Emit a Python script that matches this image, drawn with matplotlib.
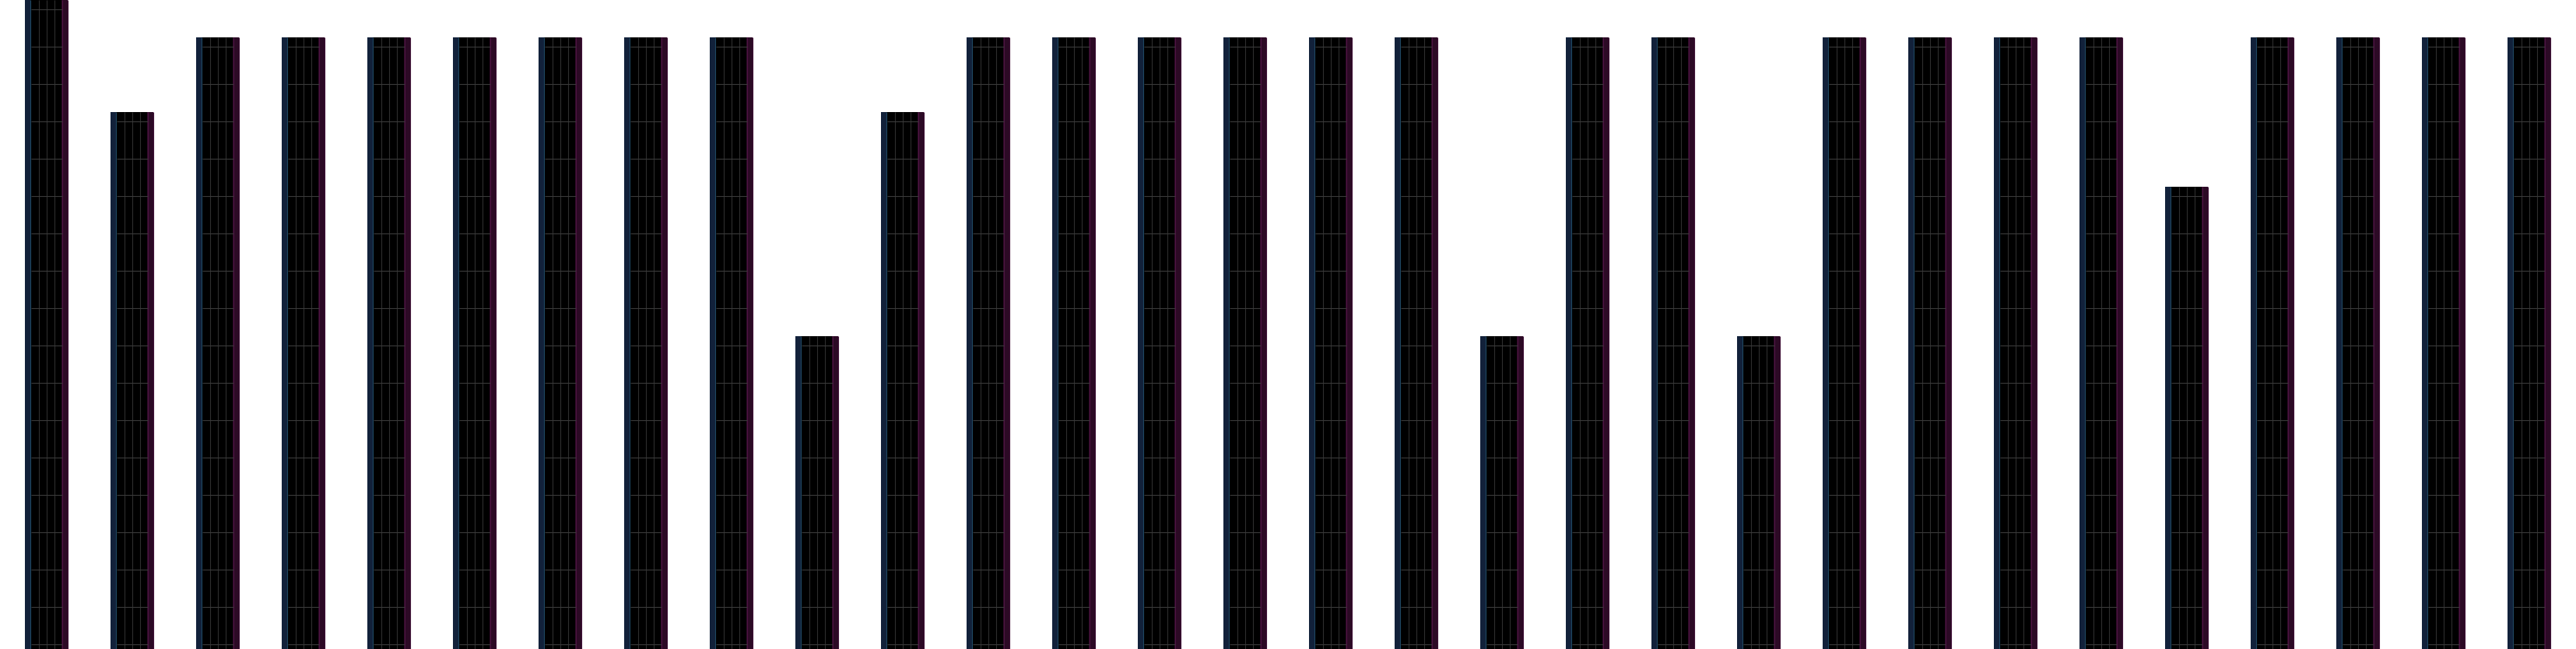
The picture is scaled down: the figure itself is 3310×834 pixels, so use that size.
import matplotlib
matplotlib.use("Agg")
import matplotlib.pyplot as plt
import numpy as np

# bar values (grid unit = one horizontal grid step)
values = [18, 15, 17, 17, 17, 17, 17, 17, 17, 9,
          15, 17, 17, 17, 17, 17, 17, 9, 17, 17,
          9, 17, 17, 17, 17, 13, 17, 17, 17, 17]
grid_levels = [17.75 - k for k in range(18)]

PX = 1 / 110  # one pixel in x data units (bar pitch = 110 px)
BAR_W = 55 * PX

fig = plt.figure(figsize=(33.1, 8.34), dpi=100)
ax = fig.add_axes([0, 0, 1, 1])
x = np.arange(len(values))

# black body
ax.bar(x, values, width=BAR_W, color="black", linewidth=0, zorder=1)
# blue strip on the left, magenta strip on the right
ax.bar(x - 27.5 * PX, values, width=7 * PX, align="edge", color="#12213a", linewidth=0, zorder=2)
ax.bar(x + 19.5 * PX, values, width=8 * PX, align="edge", color="#2c0a25", linewidth=0, zorder=2)
ax.vlines(x - 21 * PX, 0, values, color="#1f4862", linewidth=0.8, zorder=3)
ax.vlines(x + 20 * PX, 0, values, color="#4d1442", linewidth=0.8, zorder=3)
ax.vlines(x + 27 * PX, 0, values, color="#3e1036", linewidth=0.8, zorder=3)

# inner grid
for off in (-10, 0, 10):
    ax.vlines(x + off * PX, 0, values, color="#2e2e2e", linewidth=0.8, zorder=3)
for xi, v in zip(x, values):
    ys = [g for g in grid_levels if g < v]
    ax.hlines(ys, xi - 20 * PX, xi + 20 * PX, color="#3a3a3a", linewidth=0.8, zorder=3)

ax.set_xlim(-59.5 * PX, (3310 - 59.5) * PX)
ax.set_ylim(0.625, 18)
ax.axis("off")

fig.savefig("out.png", dpi=100, facecolor="white")
plt.close(fig)
